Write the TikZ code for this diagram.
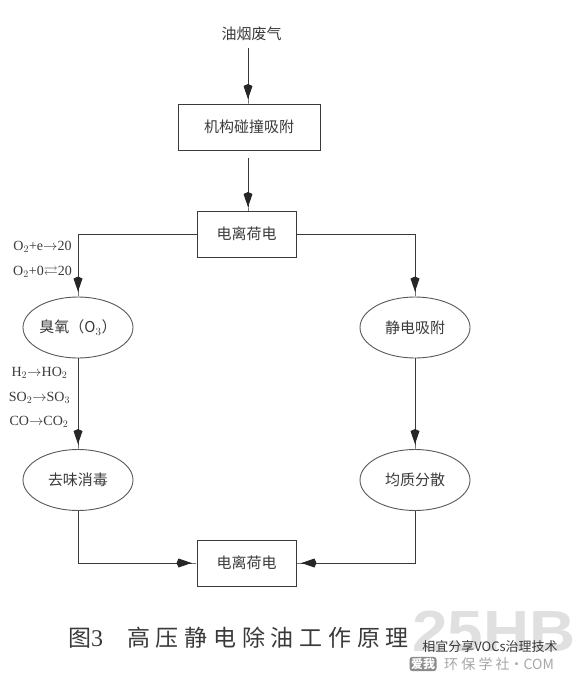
\documentclass[tikz,border=0pt]{standalone}
\usepackage{amssymb}
\usepackage{fontspec}
\setmainfont{Liberation Serif}
\newfontfamily\cjk{Noto Sans CJK SC}
\newfontfamily\capcjk[LetterSpace=25]{Noto Sans CJK SC}
\newfontfamily\wmfont{Liberation Sans}
\usetikzlibrary{arrows.meta,positioning,shapes.geometric}
\definecolor{ink}{HTML}{3A3A3A}
\tikzset{
  lbl/.style={font=\cjk\fontsize{15}{17}\selectfont,text=ink},
  chem/.style={font=\fontsize{14}{16}\selectfont,text=ink,inner sep=0pt},
  rbox/.style={draw=ink,line width=0.9pt,lbl,minimum height=46,inner sep=0pt},
  oval/.style={draw=ink!85,line width=0.9pt,ellipse,lbl,minimum width=110,minimum height=61,inner sep=0pt},
  flow/.style={draw=ink,line width=0.9pt,-{Kite[length=15pt,width=9pt,inset=2pt,sep=0pt,fill=black!85,color=black!85]Rectangle[length=5pt,width=0.9pt,fill=ink,color=ink]}},
}
\begin{document}
\begin{tikzpicture}[x=1pt,y=-1pt]
\useasboundingbox (0,0) rectangle (580,673);
\node[lbl] (src) at (251.5,34) {油烟废气};
\node[rbox,minimum width=142] (mech) at (249,127) {机构碰撞吸附};
\node[rbox,minimum width=99] (ion) at (246.5,234) {电离荷电};
\node[oval] (oz) at (78,327.5) {臭氧（O$_3$）};
\node[oval] (es) at (415,327.5) {静电吸附};
\node[oval] (deo) at (78,480) {去味消毒};
\node[oval] (uni) at (415,480) {均质分散};
\node[rbox,minimum width=99] (ion2) at (246.5,563) {电离荷电};
\coordinate (s1) at (248,48);
\coordinate (s2) at (248,158);
\coordinate (ion-top) at (248,212);
\coordinate (mech-in) at (248,104);
\draw[flow] (s1) -- (mech-in);
\draw[flow] (s2) -- (ion-top);
\draw[flow] (ion.west) -| (oz.north);
\draw[flow] (ion.east) -| (es.north);
\draw[flow] (oz.south) -- (deo.north);
\draw[flow] (es.south) -- (uni.north);
\draw[flow] (deo.south) |- (ion2.west);
\draw[flow] (uni.south) |- (ion2.east);
\node[chem] (c1) at (42.5,247) {O$_2$+e${\rightarrow}$20};
\node[chem] (c2) at (42.5,272) {O$_2$+0${\rightleftarrows}$20};
\node[chem] (c3) at (39.5,372.5) {H$_2{\rightarrow}$HO$_2$};
\node[chem] (c4) at (39.5,398) {SO$_2{\rightarrow}$SO$_3$};
\node[chem] (c5) at (39,422) {CO${\rightarrow}$CO$_2$};
\node[font=\capcjk\fontsize{23}{25}\selectfont,text=ink,anchor=west,inner sep=0pt] (cap) at (68,638) {图{\rmfamily\fontsize{24}{24}\selectfont 3}\hspace{24pt}高压静电除油工作原理};
\node[font=\wmfont\bfseries\fontsize{58}{58}\selectfont,text=black!12,xscale=1.1] (wm) at (494,632) {25HB};
\node[font=\cjk\fontsize{13}{15}\selectfont,text=ink] (wm2) at (490,647) {相宜分享VOCs治理技术};
\node[font=\cjk\bfseries\fontsize{12}{14}\selectfont,text=white,fill=black!45,rounded corners=3pt,inner sep=1.5pt] (wm3) at (423,664) {爱我};
\node[font=\cjk\fontsize{14}{16}\selectfont,text=black!35,right=4pt of wm3] (wm4) {环 保 学 社·COM};
\end{tikzpicture}
\end{document}
